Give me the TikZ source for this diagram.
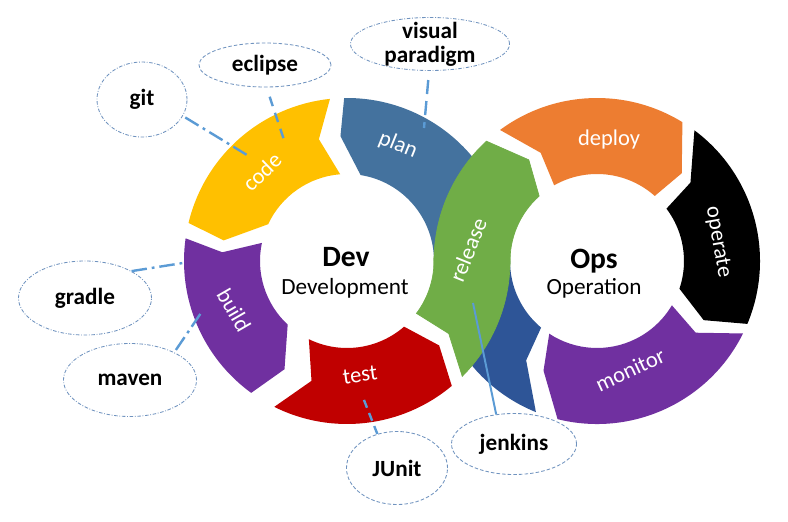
\documentclass[tikz,border=0pt]{standalone}
\usepackage{fontspec}
\setmainfont{Carlito}
\usetikzlibrary{shapes.geometric}

\definecolor{plancol}{HTML}{44729E}
\definecolor{bluedark}{HTML}{2E5597}
\definecolor{codecol}{HTML}{FFC000}
\definecolor{buildcol}{HTML}{7030A0}
\definecolor{testcol}{HTML}{C00000}
\definecolor{relcol}{HTML}{70AD47}
\definecolor{deploycol}{HTML}{ED7D31}
\definecolor{linkcol}{HTML}{5B9BD5}
\definecolor{ringcol}{HTML}{7093BF}

\begin{document}
\begin{tikzpicture}[x=0.025cm, y=0.025cm,
  seglabel/.style={text=white, font=\fontsize{16}{18}\selectfont},
  toolfont/.style={font=\fontsize{16.5}{17}\selectfont\bfseries},
  tool/.style={ellipse, draw=ringcol, line width=0.6pt, dash pattern=on 2.5pt off 1.5pt, inner sep=0pt, toolfont},
  tooldot/.style={tool, dash pattern=on 2.5pt off 1.2pt on 0.6pt off 1.2pt},
  link/.style={linkcol, line width=1.7pt, dash pattern=on 7pt off 5pt},
  linkdot/.style={linkcol, line width=1.7pt, dash pattern=on 11pt off 3.5pt on 2pt off 3.5pt}]
  \useasboundingbox[fill=white] (0,0) rectangle (788,521);

  % Dev 环
  \begin{scope}[shift={(347,260)}]
    % plan
    \fill[plancol] (0:87) arc[start angle=0, end angle=81, radius=87] -- (93:125) -- (91:163)
      arc[start angle=91, end angle=0, radius=163] -- cycle;
    % code
    \fill[codecol] (96:163) arc[start angle=96, end angle=166.5, radius=163] -- (170.5:125) -- (155:87)
      arc[start angle=155, end angle=94.5, radius=87] -- (103:125) -- cycle;
    % build
    \fill[buildcol] (172:163) arc[start angle=172, end angle=234, radius=163] -- (240:125) -- (227:87)
      arc[start angle=227, end angle=168, radius=87] -- (176:125) -- cycle;
    % test
    \fill[testcol] (243.5:163) arc[start angle=243.5, end angle=310, radius=163] -- (317.5:125) -- (311:87)
      arc[start angle=311, end angle=244, radius=87] -- (253.5:125) -- cycle;
  \end{scope}

  % Ops 环
  \begin{scope}[shift={(597,260)}]
    % plan 下半段
    \fill[bluedark] (-112:163) arc[start angle=-112, end angle=-180, radius=163] -- (-180:87)
      arc[start angle=-180, end angle=-130, radius=87] -- (-125.5:122) -- cycle;
    % deploy
    \fill[deploycol] (126.5:163) arc[start angle=126.5, end angle=58.4, radius=163] -- (46:122) -- (48.4:87)
      arc[start angle=48.4, end angle=119.5, radius=87] -- (117.5:122) -- cycle;
    % operate
    \fill[black] (53.3:163) arc[start angle=53.3, end angle=-22.7, radius=163] -- (-29:122) -- (-18.6:87)
      arc[start angle=-18.6, end angle=37, radius=87] -- (40:122) -- cycle;
    % monitor
    \fill[buildcol] (-26.4:163) arc[start angle=-26.4, end angle=-104, radius=163] -- (-116:122) -- (-123.3:87)
      arc[start angle=-123.3, end angle=-30.6, radius=87] -- (-36:122) -- cycle;
  \end{scope}

  % release 跨过两环
  \begin{scope}[shift={(347,260)}]
    \filldraw[relcol, line width=0.5pt] (-37:87) -- (-35.5:125) -- (-45:163) arc[start angle=-45, end angle=2, radius=163] -- (2:87)
      arc[start angle=2, end angle=-37, radius=87] -- cycle;
  \end{scope}
  \begin{scope}[shift={(597,260)}]
    \filldraw[relcol, line width=0.5pt] (182:163) arc[start angle=182, end angle=132.7, radius=163] -- (124:122) -- (131.7:87)
      arc[start angle=131.7, end angle=182, radius=87] -- cycle;
  \end{scope}

  % 环上文字
  \node[seglabel, rotate=-22] (plan) at (398,376) {plan};
  \node[seglabel, rotate=44] (code) at (262,349) {code};
  \node[seglabel, rotate=-60] (build) at (234,211) {build};
  \node[seglabel, rotate=8] (test) at (360,146) {test};
  \node[seglabel, rotate=68] (release) at (468,271) {release};
  \node[seglabel] (deploy) at (609,381) {deploy};
  \node[seglabel, rotate=-80] (operate) at (718,279) {operate};
  \node[seglabel, rotate=25] (monitor) at (630,151) {monitor};

  % 中心文字
  \node[font=\fontsize{21}{24}\selectfont\bfseries] (dev) at (346,264) {Dev};
  \node[font=\fontsize{16.5}{18}\selectfont] (devlong) at (345,233) {Development};
  \node[font=\fontsize{21}{24}\selectfont\bfseries] (ops) at (594,260) {Ops};
  \node[font=\fontsize{16.5}{18}\selectfont] (opslong) at (594,233) {Operation};

  % 工具
  \node[tooldot, minimum width=2.25cm, minimum height=1.875cm] (git) at (142,421.5) {git};
  \node[tool, minimum width=3.3cm, minimum height=1.1cm] (eclipse) at (265,456) {eclipse};
  \node[tooldot, minimum width=3.975cm, minimum height=1.325cm,
    label={[align=center, toolfont]center:visual\\paradigm}] (visual) at (430,477) {};
  \node[tooldot, minimum width=3.325cm, minimum height=1.85cm] (gradle) at (85,223) {gradle};
  \node[tooldot, minimum width=3.325cm, minimum height=1.825cm] (maven) at (130,141) {maven};
  \node[tool, minimum width=2.525cm, minimum height=1.825cm] (junit) at (397,53) {JUnit};
  \node[tool, minimum width=3.125cm, minimum height=1.525cm] (jenkins) at (514,77) {jenkins};

  % 连线
  \coordinate (codeA) at (247,366);
  \coordinate (codeB) at (285,378);
  \coordinate (planA) at (424,393);
  \coordinate (buildA) at (183,258);
  \coordinate (buildB) at (203,211);
  \coordinate (testA) at (362,126);
  \coordinate (relA) at (473,218);
  \draw[linkdot, shorten <=2pt] (git.-22) -- (codeA);
  \draw[link, shorten <=7pt] (eclipse.-86) -- (codeB);
  \draw[link, dash pattern=on 10pt off 5pt, shorten <=6.5pt] (visual.-92) -- (planA);
  \draw[linkdot] (gradle.30) -- (buildA);
  \draw[linkdot, shorten <=2pt] (maven.32) -- (buildB);
  \draw[link, dash pattern=on 6pt off 4pt] (junit.120) -- (testA);
  \draw[linkcol, line width=1.4pt] (jenkins.121) -- (relA);
\end{tikzpicture}
\end{document}
